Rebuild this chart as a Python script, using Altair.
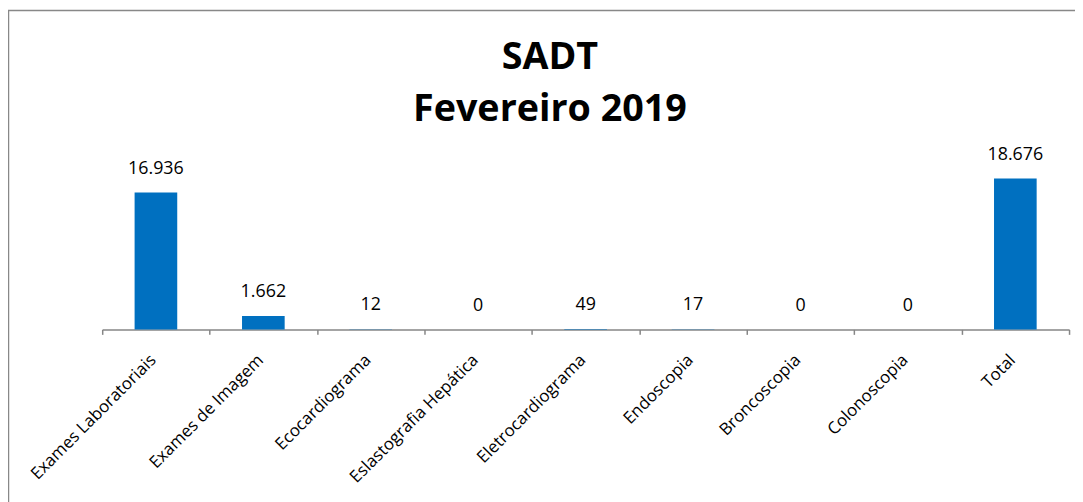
import altair as alt
import pandas as pd

categories = ["Exames Laboratoriais", "Exames de Imagem", "Ecocardiograma",
              "Eslastografia Hepática", "Eletrocardiograma", "Endoscopia",
              "Broncoscopia", "Colonoscopia", "Total"]
values = [16936, 1662, 12, 0, 49, 17, 0, 0, 18676]

df = pd.DataFrame({
    "cat": categories,
    "val": values,
    "lab": [f"{v:,}".replace(",", ".") for v in values],
})

FONT = "Open Sans"

x = alt.X("cat:N", sort=categories, title=None,
          scale=alt.Scale(paddingInner=0, paddingOuter=0),
          axis=alt.Axis(labelAngle=-45, labelAlign="right", labelBaseline="middle",
                        labelFont=FONT, labelFontSize=17, labelColor="#000000",
                        labelPadding=23, labelOffset=-3, tickBand="extent", tickSize=5,
                        tickColor="#868686", domainColor="#868686",
                        domainWidth=1.5, tickWidth=1.5, labelLimit=400))
y = alt.Y("val:Q", scale=alt.Scale(domain=[0, 20000]), axis=None)

base = alt.Chart(df)
bars = base.mark_bar(size=43, color="#0070C0").encode(x=x, y=y)
texts = base.mark_text(baseline="bottom", dy=-15, font=FONT, fontSize=18,
                       color="#000000").encode(x=x, y=y, text="lab:N")

frame = alt.Chart(alt.Data(values=[{}])).mark_rect(
    fill=None, stroke="#888888", strokeWidth=1.5
).encode(x=alt.value(-94.5), x2=alt.value(1200),
         y=alt.value(-158.5), y2=alt.value(600))

chart = alt.layer(frame, bars, texts).properties(
    width=975, height=163,
    title=alt.Title(["SADT", "Fevereiro 2019"], font=FONT, fontSize=38,
                    fontWeight="bold", color="#000000", lineHeight=52,
                    anchor="middle", dx=-36, dy=120, offset=0),
    autosize=alt.AutoSizeParams(type="none"),
    padding={"left": 95, "top": 159, "right": 6, "bottom": 178},
).configure_view(stroke=None)

chart.save("out.html", embed_options={"renderer": "svg", "actions": False})
